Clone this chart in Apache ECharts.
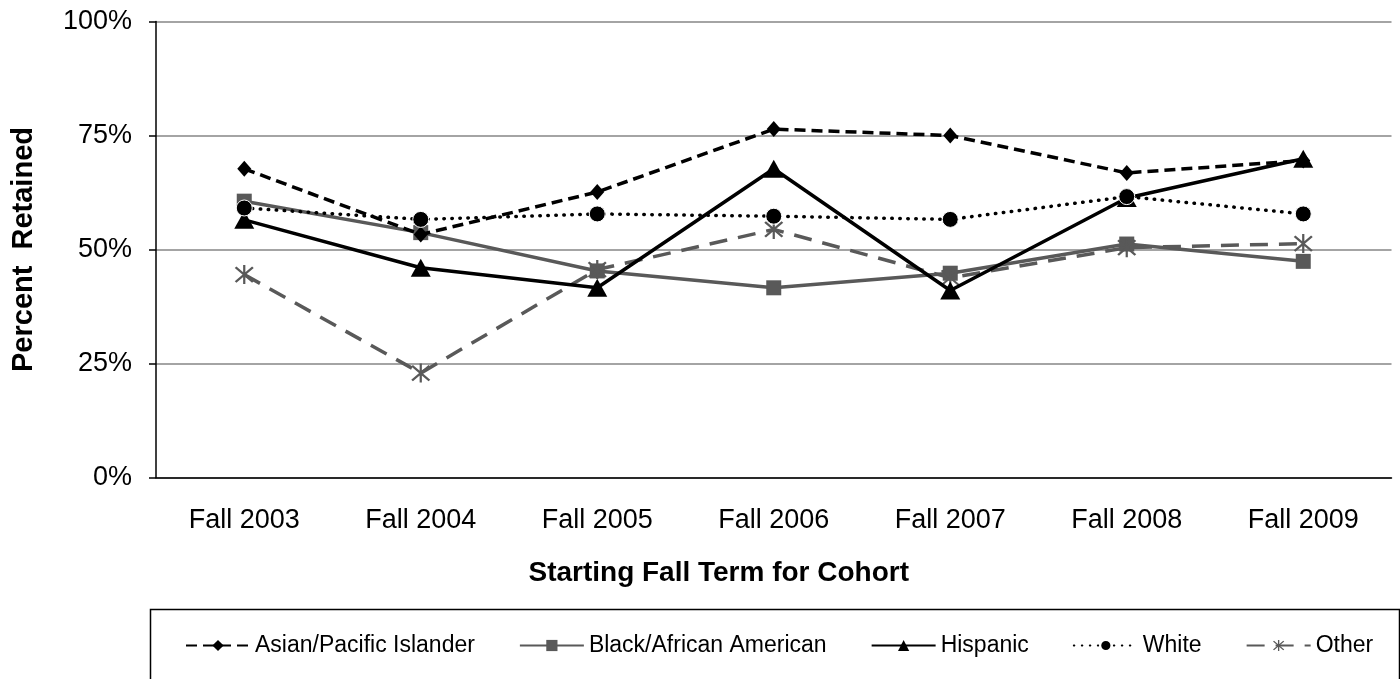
<!DOCTYPE html>
<html>
<head>
<meta charset="utf-8">
<script src="https://cdn.jsdelivr.net/npm/echarts@6/dist/echarts.min.js"></script>
<style>
html,body{margin:0;padding:0;background:#fff;}
#chart{width:1400px;height:679px;}
</style>
</head>
<body>
<div id="chart"></div>
<script>
const categories = ['Fall 2003','Fall 2004','Fall 2005','Fall 2006','Fall 2007','Fall 2008','Fall 2009'];
const asianPacific = [67.7, 53.3, 62.6, 76.4, 75.0, 66.8, 69.5];
const blackAfrican = [60.6, 53.7, 45.3, 41.6, 44.8, 51.2, 47.4];
const hispanic = [56.5, 46.0, 41.6, 67.7, 41.0, 61.3, 69.9];
const white = [59.1, 56.6, 57.8, 57.3, 56.6, 61.6, 57.8];
const other = [44.5, 22.9, 45.6, 54.4, 43.8, 50.4, 51.3];
const yTicks = [0, 25, 50, 75, 100];

const FONT = '"Liberation Sans", Arial, sans-serif';
const GRAY = '#595959';
const asterisk = 'path://M9 0L11 0L11 20L9 20Z M1.5 3L3 1.5L18.5 17L17 18.5Z M17 1.5L18.5 3L3 18.5L1.5 17Z';

const chart = echarts.init(document.getElementById('chart'), null, {renderer:'canvas'});
chart.setOption({
  animation: false,
  backgroundColor: '#fff',
  textStyle: {fontFamily: FONT},
  grid: {left: 156, right: 8.5, top: 21.5, bottom: 201.5, containLabel: false},
  graphic: [{
    type: 'rect', left: 148, top: 607,
    shape: {width: 1249, height: 80},
    style: {fill: 'none', stroke: '#000', lineWidth: 1.5},
    z: 0
  }],
  legend: {
    left: 185, top: 634, padding: 0,
    itemWidth: 64, itemHeight: 14, itemGap: 44,
    textStyle: {fontFamily: FONT, fontSize: 23, color: '#000'},
    data: ['Asian/Pacific Islander','Black/African American','Hispanic','White','Other']
  },
  xAxis: {
    type: 'category', data: categories, boundaryGap: true,
    name: 'Starting Fall Term for Cohort', nameLocation: 'middle', nameGap: 82,
    nameTextStyle: {fontFamily: FONT, fontSize: 28, fontWeight: 'bold', color: '#000', padding: [0, 110, 0, 0]},
    axisLine: {lineStyle: {color: '#000', width: 1.5}},
    axisTick: {alignWithLabel: true, length: 7, lineStyle: {color: '#000', width: 1.5}},
    axisLabel: {fontFamily: FONT, fontSize: 27, color: '#000', margin: 30},
    splitLine: {show: false}
  },
  yAxis: {
    type: 'value', min: yTicks[0], max: yTicks[yTicks.length-1], interval: 25,
    name: 'Percent  Retained', nameLocation: 'middle', nameGap: 118,
    nameTextStyle: {fontFamily: FONT, fontSize: 29, fontWeight: 'bold', color: '#000'},
    axisLine: {show: true, lineStyle: {color: '#000', width: 1.5}},
    axisTick: {show: true, length: 7, lineStyle: {color: '#000', width: 1.5}},
    axisLabel: {fontFamily: FONT, fontSize: 27, color: '#000', margin: 24, formatter: '{value}%'},
    splitLine: {show: true, lineStyle: {color: '#868686', width: 1.5}}
  },
  series: [
    {
      name: 'Asian/Pacific Islander', type: 'line', data: asianPacific,
      symbol: 'diamond', symbolSize: [14, 16],
      lineStyle: {color: '#000', width: 3.5, type: [11, 6]},
      itemStyle: {color: '#000'}, z: 3
    },
    {
      name: 'Black/African American', type: 'line', data: blackAfrican,
      symbol: 'rect', symbolSize: 15,
      lineStyle: {color: GRAY, width: 3.5, type: 'solid'},
      itemStyle: {color: GRAY}, z: 2
    },
    {
      name: 'Hispanic', type: 'line', data: hispanic,
      symbol: 'triangle', symbolSize: [20, 18],
      lineStyle: {color: '#000', width: 3.5, type: 'solid'},
      itemStyle: {color: '#000'}, z: 4
    },
    {
      name: 'White', type: 'line', data: white,
      symbol: 'circle', symbolSize: 16,
      lineStyle: {color: '#000', width: 3.5, type: [0.5, 7.5], cap: 'round'},
      itemStyle: {color: '#000', borderColor: '#fff', borderWidth: 1}, z: 5
    },
    {
      name: 'Other', type: 'line', data: other,
      symbol: asterisk, symbolSize: 19,
      lineStyle: {color: GRAY, width: 3.5, type: [18, 11]},
      itemStyle: {color: GRAY}, z: 3
    }
  ]
});
</script>
</body>
</html>
